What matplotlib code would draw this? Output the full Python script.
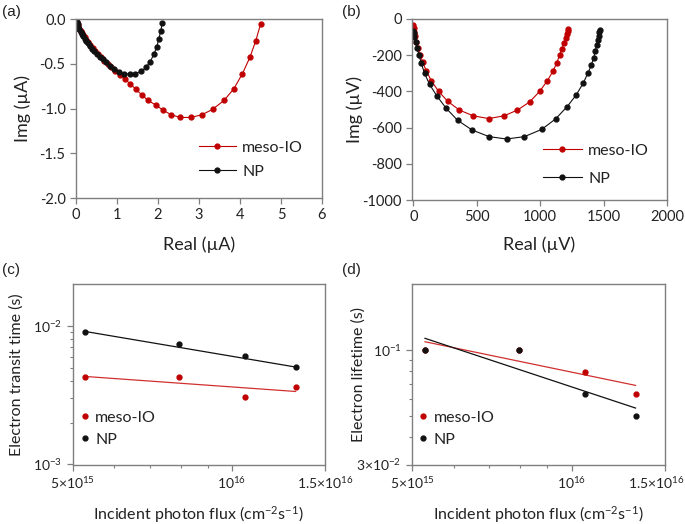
import matplotlib
matplotlib.use("Agg")
import matplotlib.pyplot as plt
import matplotlib.transforms as mtransforms
from matplotlib.ticker import FixedLocator, NullFormatter

plt.rcParams["font.family"] = ["Lato", "DejaVu Sans"]
plt.rcParams["mathtext.fontset"] = "custom"
plt.rcParams["mathtext.rm"] = "Lato"
plt.rcParams["mathtext.default"] = "regular"

RED = "#c00000"
BLACK = "#111111"
FRAME = "#7f7f7f"
TEXT = "#222222"

# (a) Nyquist plot, current (uA)
a_meso_real = [4.50, 4.38, 4.24, 4.06, 3.85, 3.61, 3.33, 3.07, 2.80, 2.54, 2.32, 2.13,
               1.94, 1.76, 1.61, 1.46, 1.32, 1.19, 1.07, 0.96, 0.86, 0.77, 0.69, 0.61,
               0.54, 0.47, 0.41, 0.35, 0.30, 0.25, 0.21, 0.17, 0.14, 0.11, 0.08, 0.06,
               0.04, 0.025, 0.015, 0.005]
a_meso_img = [-0.06, -0.25, -0.43, -0.61, -0.78, -0.91, -1.01, -1.07, -1.10, -1.10, -1.07, -1.02,
              -0.96, -0.91, -0.85, -0.785, -0.725, -0.67, -0.625, -0.585, -0.54, -0.50, -0.465, -0.425,
              -0.39, -0.355, -0.325, -0.29, -0.26, -0.235, -0.205, -0.18, -0.16, -0.135, -0.11, -0.09,
              -0.07, -0.05, -0.03, -0.01]
a_np_real = [2.10, 2.07, 2.02, 1.97, 1.90, 1.81, 1.71, 1.59, 1.45, 1.32, 1.18, 1.04, 0.92,
             0.82, 0.73, 0.65, 0.58, 0.51, 0.45, 0.39, 0.34, 0.29, 0.25, 0.21, 0.17, 0.14,
             0.11, 0.08, 0.06, 0.04, 0.02, 0.01, 0.0]
a_np_img = [-0.05, -0.13, -0.22, -0.31, -0.395, -0.475, -0.54, -0.585, -0.61, -0.62, -0.61, -0.59, -0.555,
            -0.52, -0.485, -0.45, -0.42, -0.39, -0.36, -0.33, -0.30, -0.27, -0.245, -0.22, -0.19, -0.165,
            -0.14, -0.11, -0.085, -0.06, -0.035, -0.015, 0.0]

# (b) Nyquist plot, voltage (uV)
b_meso_real = [0, 3, 8, 15, 25, 38, 55, 75, 102, 141, 200, 272, 363, 473, 594, 716, 821,
               918, 996, 1056, 1100, 1130, 1153, 1171, 1187, 1200, 1210, 1216, 1220]
b_meso_img = [-35, -50, -70, -95, -125, -160, -200, -240, -285, -340, -400, -455, -503, -535,
              -550, -535, -503, -458, -400, -342, -290, -245, -200, -165, -130, -105, -82, -65, -55]
b_np_real = [0, 3, 8, 18, 31, 45, 63, 89, 128, 186, 259, 350, 463, 598, 735, 876, 1012,
             1122, 1213, 1284, 1339, 1378, 1404, 1422, 1435, 1446, 1454, 1462, 1467, 1470]
b_np_img = [-65, -80, -98, -125, -162, -199, -245, -300, -361, -425, -493, -560, -613, -650,
            -663, -650, -610, -552, -484, -420, -355, -297, -254, -214, -177, -144, -116,
            -92, -74, -62]

# (c), (d) versus incident photon flux
flux = [5.29e15, 7.96e15, 1.06e16, 1.32e16]
transit_meso = [0.00426, 0.00426, 0.00309, 0.00361]
transit_np = [0.00909, 0.00738, 0.00607, 0.00506]
lifetime_meso = [0.100, 0.100, 0.0795, 0.0631]
lifetime_np = [0.100, 0.100, 0.0631, 0.0501]

# power-law fit lines (end points)
fit_flux = [5.29e15, 1.32e16]
transit_fit_meso = [0.00431, 0.00336]
transit_fit_np = [0.00909, 0.00504]
lifetime_fit_meso = [0.109, 0.0689]
lifetime_fit_np = [0.113, 0.0543]


def style_axes(ax, xlab_xy, ylab_xy):
    for sp in ax.spines.values():
        sp.set_color(FRAME)
        sp.set_linewidth(1.0)
    ax.tick_params(which="both", direction="out", color=FRAME, labelcolor=TEXT,
                   labelsize=10.5, top=False, right=False)
    ax.tick_params(which="major", length=4, width=0.9)
    ax.tick_params(which="minor", length=2.5, width=0.8)
    # fixed label positions (axes coords, label centre)
    ax.xaxis.set_label_coords(*xlab_xy)
    ax.xaxis.label.set_va("center")
    ax.yaxis.set_label_coords(*ylab_xy)
    ax.yaxis.label.set_va("center")


fig = plt.figure(figsize=(6.85, 5.24), dpi=100)

# ---- (a)
ax = fig.add_axes([76 / 685, 1 - 198 / 524, 246 / 685, 179 / 524])
ax.plot(a_meso_real, a_meso_img, color=RED, lw=0.8, marker="o", ms=3.5, mec=RED, label="meso-IO")
ax.plot(a_np_real, a_np_img, color=BLACK, lw=0.8, marker="o", ms=3.5, mec=BLACK, label="NP")
ax.set_xlim(0, 6)
ax.set_ylim(-2, 0)
ax.set_xticks(range(0, 7))
ax.set_yticks([0, -0.5, -1.0, -1.5, -2.0])
ax.set_yticklabels(["0.0", "-0.5", "-1.0", "-1.5", "-2.0"])
ax.set_xlabel("Real (µA)", fontsize=13, color=TEXT)
ax.set_ylabel("Img (µA)", fontsize=13, color=TEXT)
style_axes(ax, (0.5, -0.263), (-0.215, 0.5))
ax.legend(loc="upper left", bbox_to_anchor=(0.5, 0.32), frameon=False, fontsize=11.5,
          borderpad=0, borderaxespad=0, handlelength=2.3, handletextpad=0.4,
          labelspacing=0.62, labelcolor=TEXT)

# ---- (b)
ax = fig.add_axes([412 / 685, 1 - 200 / 524, 255 / 685, 181 / 524])
ax.plot(b_meso_real, b_meso_img, color=RED, lw=0.8, marker="o", ms=3.5, mec=RED, label="meso-IO")
ax.plot(b_np_real, b_np_img, color=BLACK, lw=0.8, marker="o", ms=3.5, mec=BLACK, label="NP")
ax.set_xlim(-10, 2000)
ax.set_ylim(-1000, 0)
ax.set_xticks([0, 500, 1000, 1500, 2000])
ax.set_yticks([0, -200, -400, -600, -800, -1000])
ax.set_yticklabels(["0", "-200", "-400", "-600", "-800", "-1000"])
ax.set_xlabel("Real (µV)", fontsize=13, color=TEXT)
ax.set_ylabel("Img (µV)", fontsize=13, color=TEXT)
style_axes(ax, (0.5, -0.249), (-0.224, 0.5))
ax.legend(loc="upper left", bbox_to_anchor=(0.515, 0.31), frameon=False, fontsize=11.5,
          borderpad=0, borderaxespad=0, handlelength=2.4, handletextpad=0.4,
          labelspacing=0.85, labelcolor=TEXT)

xt_major = [5e15, 1e16, 1.5e16]
xt_labels = ["5×10$^{15}$", "10$^{16}$", "1.5×10$^{16}$"]
xt_minor = [6e15, 7e15, 8e15, 9e15]

# ---- (c)
ax_c = fig.add_axes([72.5 / 685, 1 - 464.5 / 524, 252.5 / 685, 180.5 / 524])
ax = ax_c
ax.set_xscale("log")
ax.set_yscale("log")
ax.plot(fit_flux, transit_fit_meso, color="#d03030", lw=0.9)
ax.plot(fit_flux, transit_fit_np, color=BLACK, lw=0.9)
ax.plot(flux, transit_meso, ls="none", marker="o", ms=3.5, color=RED, label="meso-IO")
ax.plot(flux, transit_np, ls="none", marker="o", ms=3.5, color=BLACK, label="NP")
ax.set_xlim(5e15, 1.5e16)
ax.set_ylim(1e-3, 2e-2)
ax.xaxis.set_major_locator(FixedLocator(xt_major))
ax.xaxis.set_minor_locator(FixedLocator(xt_minor))
ax.set_xticklabels(xt_labels)
ax.xaxis.set_minor_formatter(NullFormatter())
ax.yaxis.set_major_locator(FixedLocator([1e-3, 1e-2]))
ax.yaxis.set_minor_locator(FixedLocator([k * 1e-3 for k in range(2, 10)]))
ax.set_yticklabels(["10$^{-3}$", "10$^{-2}$"])
ax.yaxis.set_minor_formatter(NullFormatter())
ax.set_xlabel("Incident photon flux (cm$^{-2}$s$^{-1}$)", fontsize=11.5, color=TEXT)
ax.set_ylabel("Electron transit time (s)", fontsize=11.5, color=TEXT)
style_axes(ax, (0.5, -0.28), (-0.22, 0.5))
ax.tick_params(labelsize=10)
ax.legend(loc="upper left", bbox_to_anchor=(0.03, 0.30), frameon=False, fontsize=11.5,
          borderpad=0, borderaxespad=0, handlelength=0.6, handletextpad=0.35,
          labelspacing=0.5, labelcolor=TEXT)

# ---- (d)
ax_d = fig.add_axes([412 / 685, 1 - 464.5 / 524, 253 / 685, 180.5 / 524])
ax = ax_d
ax.set_xscale("log")
ax.set_yscale("log")
ax.plot(fit_flux, lifetime_fit_meso, color="#d03030", lw=0.9)
ax.plot(fit_flux, lifetime_fit_np, color=BLACK, lw=0.9)
ax.plot(flux, lifetime_meso, ls="none", marker="o", ms=3.5, color=RED, label="meso-IO")
ax.plot(flux, lifetime_np, ls="none", marker="o", ms=3.5, color=BLACK, label="NP")
ax.set_xlim(5e15, 1.5e16)
ax.set_ylim(3e-2, 2e-1)
ax.xaxis.set_major_locator(FixedLocator(xt_major))
ax.xaxis.set_minor_locator(FixedLocator(xt_minor))
ax.set_xticklabels(xt_labels)
ax.xaxis.set_minor_formatter(NullFormatter())
ax.yaxis.set_major_locator(FixedLocator([3e-2, 1e-1]))
ax.yaxis.set_minor_locator(FixedLocator([k * 1e-2 for k in range(4, 10)]))
ax.set_yticklabels(["3×10$^{-2}$", "10$^{-1}$"])
ax.yaxis.set_minor_formatter(NullFormatter())
ax.set_xlabel("Incident photon flux (cm$^{-2}$s$^{-1}$)", fontsize=11.5, color=TEXT)
ax.set_ylabel("Electron lifetime (s)", fontsize=11.5, color=TEXT)
style_axes(ax, (0.5, -0.28), (-0.213, 0.5))
ax.tick_params(labelsize=10)
ax.legend(loc="upper left", bbox_to_anchor=(0.025, 0.30), frameon=False, fontsize=11.5,
          borderpad=0, borderaxespad=0, handlelength=0.6, handletextpad=0.35,
          labelspacing=0.5, labelcolor=TEXT)

# panel letters
for txt, x, y in [("(a)", 2, 12), ("(b)", 342, 12), ("(c)", 2, 270), ("(d)", 342, 270)]:
    fig.text(x / 685, 1 - y / 524, txt, fontsize=11, family="Liberation Sans",
             va="center", ha="left", color=TEXT)

# nudge the last flux tick label of (d) left so it stays inside the figure
fig.canvas.draw()
shift = mtransforms.ScaledTranslation(-9 / 100, 0, fig.dpi_scale_trans)
lbl = ax_d.get_xticklabels()[-1]
lbl.set_transform(lbl.get_transform() + shift)

fig.savefig("out.png", dpi=100)
plt.close(fig)
